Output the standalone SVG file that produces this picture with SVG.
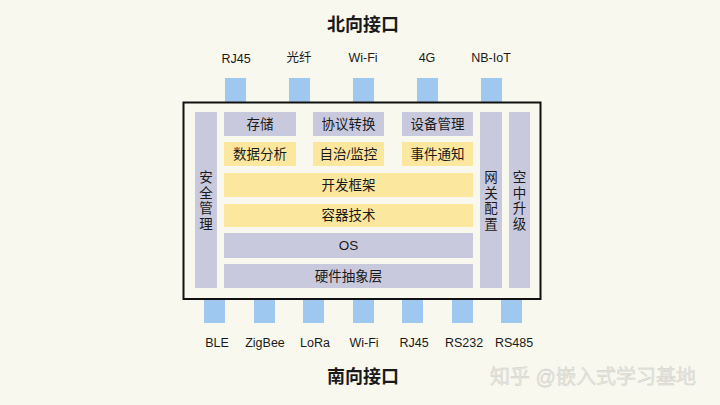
<svg xmlns="http://www.w3.org/2000/svg" width="720" height="405" viewBox="0 0 720 405">
<style>
text{font-family:"Liberation Sans","Noto Sans CJK SC",sans-serif;fill:#1a1a1a;text-anchor:middle;dominant-baseline:central}
.t{font-size:18px;font-weight:bold}
.l{font-size:12.5px}
.b{font-size:13.5px}
.port{fill:#9ec8f0}
.g{fill:#c9c9de}
.y{fill:#fce79f}
.wm{font-size:20px;fill:#e6e6e0;stroke:#cfcfc8;stroke-width:0.4}
</style>
<rect width="720" height="405" fill="#f8f8ef"/>
<text class="t" x="363" y="25">北向接口</text>
<text class="t" x="363" y="377">南向接口</text>
<g id="north-ports">
<rect class="port" x="225" y="78" width="21" height="24"/>
<rect class="port" x="289" y="78" width="21" height="24"/>
<rect class="port" x="353" y="78" width="21" height="24"/>
<rect class="port" x="417" y="78" width="21" height="24"/>
<rect class="port" x="481" y="78" width="21" height="24"/>
<text class="l" x="236" y="59">RJ45</text>
<text class="l" x="299" y="58">光纤</text>
<text class="l" x="363" y="58">Wi-Fi</text>
<text class="l" x="427" y="58">4G</text>
<text class="l" x="491" y="58">NB-IoT</text>
</g>
<g id="south-ports">
<rect class="port" x="204" y="299" width="21" height="24"/>
<rect class="port" x="254" y="299" width="21" height="24"/>
<rect class="port" x="303" y="299" width="21" height="24"/>
<rect class="port" x="353" y="299" width="21" height="24"/>
<rect class="port" x="402" y="299" width="21" height="24"/>
<rect class="port" x="452" y="299" width="21" height="24"/>
<rect class="port" x="501" y="299" width="21" height="24"/>
<text class="l" x="217" y="343">BLE</text>
<text class="l" x="265" y="343">ZigBee</text>
<text class="l" x="315" y="343">LoRa</text>
<text class="l" x="364" y="343">Wi-Fi</text>
<text class="l" x="414" y="343">RJ45</text>
<text class="l" x="464" y="343">RS232</text>
<text class="l" x="514" y="343">RS485</text>
</g>
<g id="gateway">
<rect x="183.5" y="102.5" width="357" height="196.5" fill="none" stroke="#111" stroke-width="2"/>
</g>
<g id="security"><rect class="g" x="195" y="112" width="22" height="176"/>
<text class="b"><tspan x="206" y="177">安</tspan><tspan x="206" y="192.5">全</tspan><tspan x="206" y="208">管</tspan><tspan x="206" y="223.5">理</tspan></text></g>
<g id="storage"><rect class="g" x="224" y="112" width="72" height="24"/><text class="b" x="260" y="124">存储</text></g>
<g id="protocol"><rect class="g" x="313" y="112" width="71" height="24"/><text class="b" x="348.5" y="124">协议转换</text></g>
<g id="device"><rect class="g" x="402" y="112" width="71" height="24"/><text class="b" x="437.5" y="124">设备管理</text></g>
<g id="analysis"><rect class="y" x="224" y="142" width="72" height="24"/><text class="b" x="260" y="154">数据分析</text></g>
<g id="autonomy"><rect class="y" x="313" y="142" width="71" height="24"/><text class="b" x="348.5" y="154">自治/监控</text></g>
<g id="event"><rect class="y" x="402" y="142" width="71" height="24"/><text class="b" x="437.5" y="154">事件通知</text></g>
<g id="framework"><rect class="y" x="224" y="173" width="249" height="24"/><text class="b" x="348.5" y="185">开发框架</text></g>
<g id="container"><rect class="y" x="224" y="204" width="249" height="23"/><text class="b" x="348.5" y="215.5">容器技术</text></g>
<g id="os"><rect class="g" x="224" y="233" width="249" height="25"/><text class="b" x="348.5" y="245">OS</text></g>
<g id="hal"><rect class="g" x="224" y="264" width="249" height="24"/><text class="b" x="348.5" y="276">硬件抽象层</text></g>
<g id="gwconfig"><rect class="g" x="480" y="112" width="22" height="176"/>
<text class="b"><tspan x="491" y="177">网</tspan><tspan x="491" y="192.5">关</tspan><tspan x="491" y="208">配</tspan><tspan x="491" y="223.5">置</tspan></text></g>
<g id="ota"><rect class="g" x="509" y="112" width="21" height="176"/>
<text class="b"><tspan x="519.5" y="177">空</tspan><tspan x="519.5" y="192.5">中</tspan><tspan x="519.5" y="208">升</tspan><tspan x="519.5" y="223.5">级</tspan></text></g>
<g id="connectors"></g>
<text class="wm" x="593" y="377">知乎 @嵌入式学习基地</text>
</svg>
